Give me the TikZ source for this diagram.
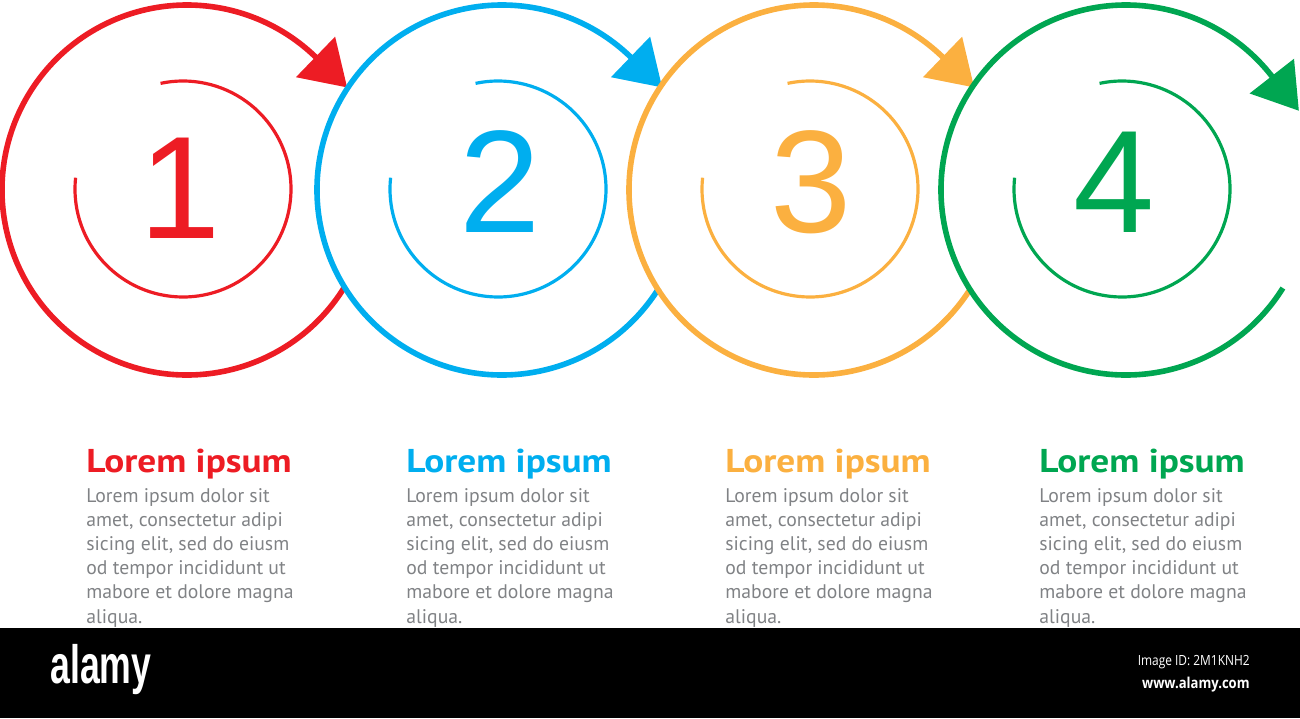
\documentclass[tikz,border=0pt]{standalone}
\usepackage{fontspec}
\setmainfont{PT Sans}
\newfontfamily\titlefont[FakeStretch=1.13]{PT Sans}
\newfontfamily\digitfont{Liberation Sans}
\newfontfamily\idfont{Open Sans}
\usetikzlibrary{arrows.meta}

\definecolor{stepred}{HTML}{ED1C24}
\definecolor{stepblue}{HTML}{00AEEF}
\definecolor{steporange}{HTML}{FBB040}
\definecolor{stepgreen}{HTML}{00A651}
\definecolor{bodygray}{HTML}{808285}

\begin{document}
\begin{tikzpicture}[x=0.5pt,y=0.5pt]
	\tikzstyle{outer} = [line width=2.8pt,-{Triangle[length=22pt,width=27.5pt]}]
	\tikzstyle{inner} = [line width=1.6pt]
	\tikzstyle{num} = [inner sep=0pt,font=\digitfont\fontsize{73}{73}\selectfont]
	\tikzstyle{title} = [anchor=base west,inner sep=0pt,font=\titlefont\bfseries\fontsize{16.5}{16.5}\selectfont]
	\tikzstyle{body} = [anchor=base west,inner sep=0pt,align=left,text=bodygray,font=\fontsize{9.85}{12.1}\selectfont]

	\useasboundingbox (0,0) rectangle (1300,718);

	% step 1
	\draw[outer,stepred] (187,528) ++(-32:185) arc[start angle=-32,end angle=-314,radius=185] -- ++(-44:44);
	\draw[inner,stepred] (183,529) ++(174:108) arc[start angle=174,end angle=462,radius=108];
	\node[num,text=stepred] (n1) at (180,530) {1};

	% step 2
	\draw[outer,stepblue] (502,528) ++(-32:185) arc[start angle=-32,end angle=-314,radius=185] -- ++(-44:44);
	\draw[inner,stepblue] (498,529) ++(174:108) arc[start angle=174,end angle=462,radius=108];
	\node[num,text=stepblue] (n2) at (500,536) {2};

	% step 3
	\draw[outer,steporange] (814,528) ++(-32:185) arc[start angle=-32,end angle=-314,radius=185] -- ++(-44:44);
	\draw[inner,steporange] (810,529) ++(174:108) arc[start angle=174,end angle=462,radius=108];
	\node[num,text=steporange] (n3) at (811,536) {3};

	% step 4
	\draw[outer,stepgreen] (1126,528) ++(-32:185) arc[start angle=-32,end angle=-322,radius=185] -- ++(-52:44);
	\draw[inner,stepgreen] (1122,529) ++(174:108) arc[start angle=174,end angle=462,radius=108];
	\node[num,text=stepgreen] (n4) at (1114,536) {4};

	% texts
	\node[title,text=stepred] (t1) at (86,246) {Lorem ipsum};
	\node[body] (b1) at (86,95) {Lorem ipsum dolor sit\\amet, consectetur adipi\\sicing elit, sed do eiusm\\od tempor incididunt ut\\mabore et dolore magna\\aliqua.};
	\node[title,text=stepblue] (t2) at (406,246) {Lorem ipsum};
	\node[body] (b2) at (406,95) {Lorem ipsum dolor sit\\amet, consectetur adipi\\sicing elit, sed do eiusm\\od tempor incididunt ut\\mabore et dolore magna\\aliqua.};
	\node[title,text=steporange] (t3) at (725,246) {Lorem ipsum};
	\node[body] (b3) at (725,95) {Lorem ipsum dolor sit\\amet, consectetur adipi\\sicing elit, sed do eiusm\\od tempor incididunt ut\\mabore et dolore magna\\aliqua.};
	\node[title,text=stepgreen] (t4) at (1039,246) {Lorem ipsum};
	\node[body] (b4) at (1039,95) {Lorem ipsum dolor sit\\amet, consectetur adipi\\sicing elit, sed do eiusm\\od tempor incididunt ut\\mabore et dolore magna\\aliqua.};

	% bottom bar
	\fill[black] (0,0) rectangle (1300,90);
	\node[anchor=base west,inner sep=0pt,text=white,font=\digitfont\bfseries\fontsize{27}{27}\selectfont] (logo) at (50,35) {\scalebox{0.66}[1]{alamy}};
	\node[anchor=base east,inner sep=0pt,text=white,font=\idfont\fontsize{7}{7}\selectfont] (imgid) at (1250,53) {\scalebox{0.85}[1]{Image ID: 2M1KNH2}};
	\node[anchor=base east,inner sep=0pt,text=white,font=\idfont\bfseries\fontsize{7.5}{7.5}\selectfont] (site) at (1250,30) {\scalebox{0.87}[1]{www.alamy.com}};
\end{tikzpicture}
\end{document}
